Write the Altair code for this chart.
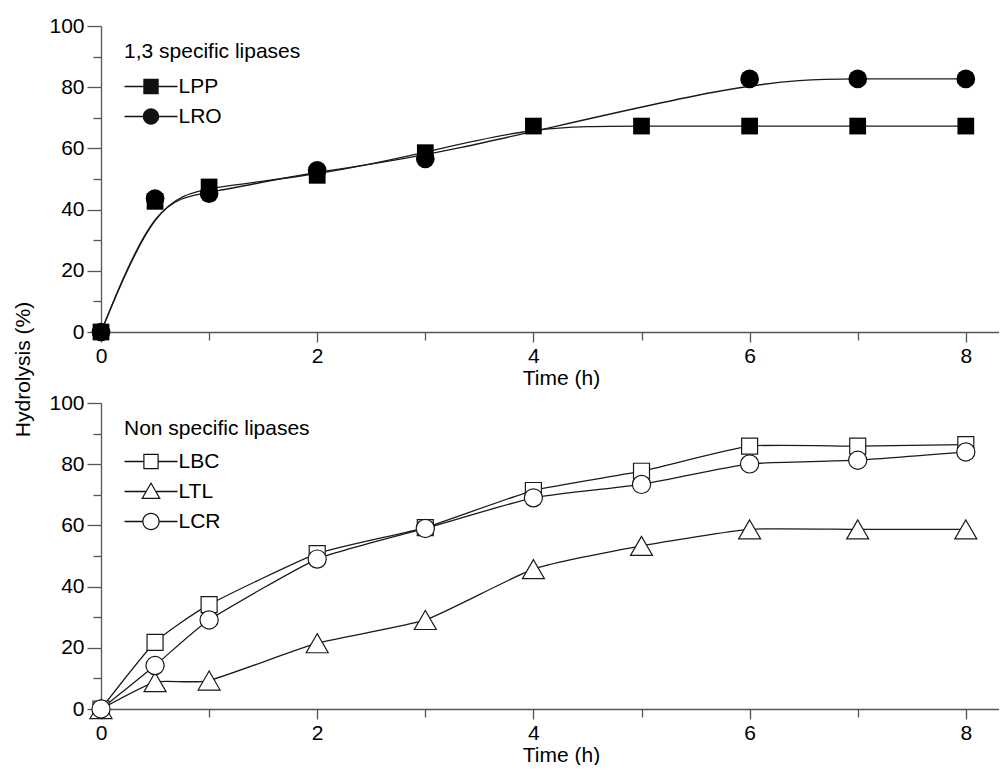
import altair as alt
import pandas as pd

FONT = "Liberation Sans"

# ---- data ----
time_lpp = [0, 0.5, 1, 2, 3, 4, 5, 6, 7, 8]
lpp = [0, 42.7, 47.4, 51.2, 58.6, 67.3, 67.3, 67.3, 67.3, 67.3]
time_lro = [0, 0.5, 1, 2, 3, 6, 7, 8]
lro = [0, 43.6, 45.2, 52.8, 56.6, 82.7, 82.7, 82.7]

time_bot = [0, 0.5, 1, 2, 3, 4, 5, 6, 7, 8]
lbc = [0, 21.8, 34.1, 50.8, 59.3, 71.4, 77.7, 85.9, 85.9, 86.4]
ltl = [0, 8.8, 9.3, 21.5, 29.1, 45.7, 53.3, 58.7, 58.7, 58.7]
lcr = [0, 14.2, 29.1, 49.0, 59.0, 69.0, 73.4, 80.1, 81.3, 84.0]

top_names = ["LPP", "LRO"]
bot_names = ["LBC", "LTL", "LCR"]
x_ticks = [0, 1, 2, 3, 4, 5, 6, 7, 8]
y_ticks = [0, 10, 20, 30, 40, 50, 60, 70, 80, 90, 100]

top_df = pd.DataFrame({
    "time": time_lpp + time_lro,
    "value": lpp + lro,
    "series": ["LPP"] * len(lpp) + ["LRO"] * len(lro),
})
bot_df = pd.DataFrame({
    "time": time_bot * 3,
    "value": lbc + ltl + lcr,
    "series": ["LBC"] * len(lbc) + ["LTL"] * len(ltl) + ["LCR"] * len(lcr),
})

# ---- legend symbols: line + marker as filled geometry (pixel units / U) ----
LEG_SIZE = 256
U = (LEG_SIZE ** 0.5) / 2.0  # pixels per path unit

def f(v):
    return f"{v / U:.4f}"

def bar(a, b, th=0.65):
    return f"M{f(a)},{f(-th)}H{f(b)}V{f(th)}H{f(a)}Z "

def sq(h):
    return f"M{f(-h)},{f(-h)}H{f(h)}V{f(h)}H{f(-h)}Z "

def sq_rev(h):
    return f"M{f(-h)},{f(-h)}V{f(h)}H{f(h)}V{f(-h)}Z "

def circ(r, sweep=1):
    return (f"M{f(-r)},0A{f(r)},{f(r)} 0 1,{sweep} {f(r)},0"
            f"A{f(r)},{f(r)} 0 1,{sweep} {f(-r)},0Z ")

def tri(top, base, hw, rev=False):
    if rev:
        return f"M0,{f(-top)}L{f(-hw)},{f(base)}H{f(hw)}Z "
    return f"M0,{f(-top)}L{f(hw)},{f(base)}H{f(-hw)}Z "

L = 26.5
P_LPP = bar(-L, L) + sq(7.7)
P_LRO = bar(-L, L) + circ(8.2)
P_LBC = bar(-L, -7.2) + bar(7.2, L) + sq(7.7) + sq_rev(6.5)
P_LTL = bar(-L, -5.3) + bar(5.3, L) + tri(9.5, 7.4, 9.8) + tri(7.2, 6.2, 7.7, rev=True)
P_LCR = bar(-L, -8.2) + bar(8.2, L) + circ(8.7, 1) + circ(7.5, 0)

W = 898
X_MAX = 8.307
xscale = alt.Scale(domain=[0, X_MAX], nice=False, zero=False)
yscale = alt.Scale(domain=[0, 100], nice=False)

def xaxis():
    return alt.Axis(
        title="Time (h)", values=x_ticks,
        labelExpr="datum.value % 2 == 0 ? datum.label : ''",
        tickSize={"condition": {"test": "datum.value % 2 != 0", "value": 8}, "value": 10},
        labelFlush=False, labelOverlap=False, titleX=460,
    )

def yaxis(title):
    kw = dict(
        values=y_ticks,
        labelExpr="datum.value % 20 == 0 ? datum.label : ''",
        tickSize={"condition": {"test": "datum.value % 20 != 0", "value": 8}, "value": 14},
        labelOverlap=False,
    )
    if title:
        kw.update(title=title, titleX=-78, titleY=343, titleAngle=270,
                  titleAlign="center", titleBaseline="middle")
    else:
        kw.update(title=None)
    return alt.Axis(**kw)

def panel(df, names, interp, marks, paths, leg_title, filled, ytitle, height, tpad):
    x = alt.X("time:Q", scale=xscale, axis=xaxis())
    y = alt.Y("value:Q", scale=yscale, axis=yaxis(ytitle))
    base = alt.Chart(df)
    if interp == "cardinal":
        line = base.mark_line(interpolate=interp, tension=0.5, color="#1a1a1a", strokeWidth=1.3)
    else:
        line = base.mark_line(interpolate=interp, color="#1a1a1a", strokeWidth=1.3)
    line = line.encode(x=x, y=y, detail="series:N")
    layers = [line]
    if filled:
        mk = dict(filled=True, color="black", opacity=1)
    else:
        mk = dict(filled=True, fill="white", stroke="#1a1a1a", strokeWidth=1.2, opacity=1)
    for name, (shape, size) in zip(names, marks):
        layers.append(
            base.transform_filter(alt.datum.series == name)
            .mark_point(shape=shape, size=size, **mk)
            .encode(x=x, y=y)
        )
    leg = (
        base.transform_filter("false")
        .mark_point(size=LEG_SIZE, filled=True, color="#111111", opacity=1)
        .encode(
            x=x, y=y,
            shape=alt.Shape(
                "series:N",
                scale=alt.Scale(domain=names, range=paths),
                legend=alt.Legend(
                    title=leg_title, orient="none", legendX=23, legendY=15,
                    symbolSize=LEG_SIZE, symbolStrokeWidth=0,
                    symbolOffset=16.5, labelOffset=17, titlePadding=tpad,
                ),
            ),
        )
    )
    layers.append(leg)
    return alt.layer(*layers).properties(width=W, height=height)

top = panel(top_df, top_names, "basis",
            [("square", 280), ("circle", 350)], [P_LPP, P_LRO],
            "1,3 specific lipases", True, "Hydrolysis (%)", 306, 14)
bottom = panel(bot_df, bot_names, "cardinal",
               [("square", 256), ("triangle-up", 484), ("circle", 330)],
               [P_LBC, P_LTL, P_LCR],
               "Non specific lipases", False, None, 306, 12)

chart = (
    alt.vconcat(top, bottom, spacing=71, bounds="flush")
    .resolve_scale(shape="independent")
    .resolve_legend(shape="independent")
    .properties(padding={"left": 4, "top": 7, "right": 0, "bottom": 0})
    .configure_view(stroke=None)
    .configure_axis(
        labelFont=FONT, titleFont=FONT, labelFontSize=21, titleFontSize=21,
        titleFontWeight="normal", labelColor="black", titleColor="black",
        domainColor="#555555", domainWidth=1.3, tickColor="#555555", tickWidth=1.3,
        grid=False, labelPadding=3, titlePadding=1,
    )
    .configure_legend(
        labelFont=FONT, titleFont=FONT, labelFontSize=21, titleFontSize=21,
        titleFontWeight="normal", labelColor="black", titleColor="black",
        rowPadding=8, padding=0, titleLimit=400, labelLimit=200,
    )
)

chart.save("out.html", embed_options={"renderer": "svg", "actions": False})
